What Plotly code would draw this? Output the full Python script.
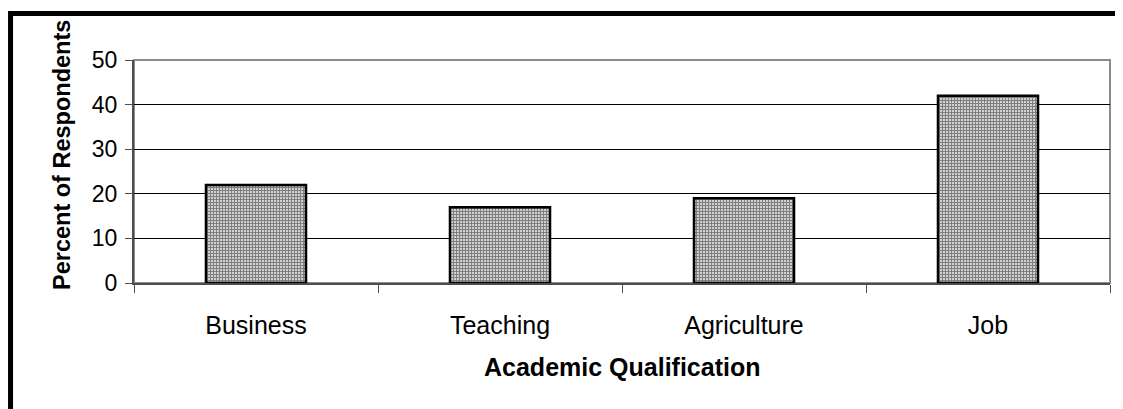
import plotly.graph_objects as go

categories = ["Business", "Teaching", "Agriculture", "Job"]
percent = [22, 17, 19, 42]
y_ticks = [0, 10, 20, 30, 40, 50]

FONT = "Liberation Sans, Arial, sans-serif"

fig = go.Figure()
fig.add_trace(go.Bar(
    x=categories,
    y=percent,
    width=0.41,
    marker=dict(
        color="white",
        line=dict(color="black", width=2.5),
        pattern=dict(shape="+", size=3, solidity=0.68, fgcolor="black", bgcolor="white", fillmode="overlay"),
    ),
    showlegend=False,
))

# plot-area outline (grey top/right), outer black frame
fig.add_shape(type="rect", xref="paper", yref="paper", x0=0, y0=0, x1=1, y1=1,
              line=dict(color="#8c8c8c", width=2), layer="below")
fig.add_shape(type="path", xref="paper", yref="paper",
              path="M -0.1265,-0.7 L -0.1265,1.2085 L 1.05,1.2085",
              line=dict(color="black", width=5))

# axis titles
fig.add_annotation(text="<b>Academic Qualification</b>", xref="paper", yref="paper",
                   x=0.5, y=-0.377, xanchor="center", yanchor="middle",
                   showarrow=False, font=dict(size=25))
fig.add_annotation(text="<b>Percent of Respondents</b>", xref="paper", yref="paper",
                   x=-0.0738, y=0.574, xanchor="center", yanchor="middle", textangle=-90,
                   showarrow=False, font=dict(size=23.5))

fig.update_layout(
    width=1115, height=401,
    margin=dict(l=126, r=13, t=52, b=126),
    paper_bgcolor="white", plot_bgcolor="white",
    font=dict(family=FONT, size=23, color="black"),
    bargap=0.59,
    xaxis=dict(
        showline=True, linecolor="#4d4d4d", linewidth=2,
        ticks="outside", tickson="boundaries", ticklen=8, tickcolor="#4d4d4d", tickwidth=1,
        showgrid=False, ticklabelstandoff=19, tickfont=dict(size=25),
    ),
    yaxis=dict(
        range=[0, 50], tickvals=y_ticks,
        showline=True, linecolor="#4d4d4d", linewidth=2,
        ticks="outside", ticklen=7, tickcolor="#4d4d4d", tickwidth=1,
        showgrid=True, gridcolor="black", gridwidth=1, zeroline=False,
        ticklabelstandoff=3, tickfont=dict(size=23),
    ),
)

fig.write_html("out.html")
